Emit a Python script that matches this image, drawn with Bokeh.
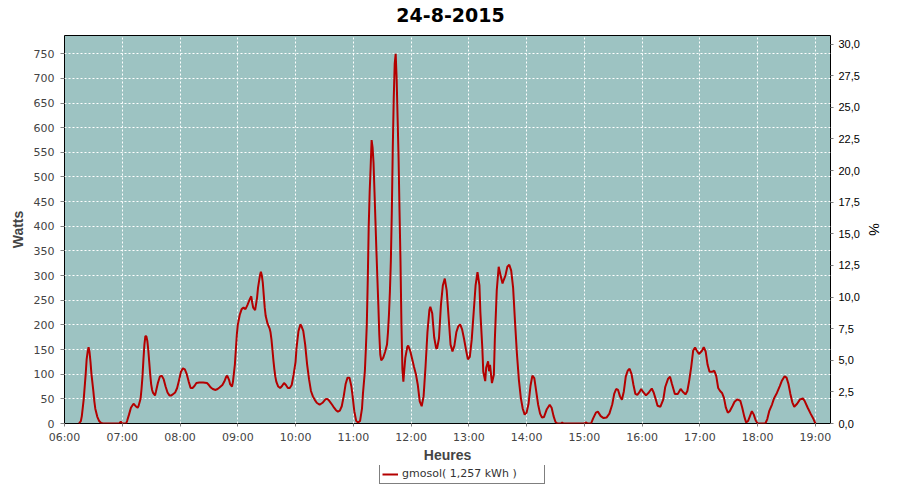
import pandas as pd
from bokeh.plotting import figure
from bokeh.layouts import column
from bokeh.models import (Range1d, LinearAxis, FixedTicker, DatetimeTickFormatter, Label,
                          CustomJSTickFormatter, Legend, LegendItem, ColumnDataSource)
from bokeh.embed import file_html
from bokeh.resources import INLINE

DATE = "2015-08-24"
TITLE = "24-8-2015"
SERIES_LABEL = "gmosol( 1,257 kWh )"

times = [
    "06:15", "06:17", "06:18", "06:20", "06:22", "06:23", "06:24", "06:25", "06:26", "06:27",
    "06:28", "06:30", "06:31", "06:32", "06:34", "06:36", "06:38", "06:40", "06:50", "06:57",
    "06:58", "06:59", "07:00", "07:04", "07:05", "07:07", "07:09", "07:11", "07:12", "07:14",
    "07:16", "07:17", "07:19", "07:20", "07:21", "07:22", "07:23", "07:24", "07:25", "07:26",
    "07:27", "07:28", "07:29", "07:30", "07:31", "07:32", "07:34", "07:35", "07:37", "07:39",
    "07:41", "07:43", "07:45", "07:47", "07:49", "07:51", "07:53", "07:55", "07:57", "07:59",
    "08:01", "08:03", "08:05", "08:07", "08:09", "08:11", "08:13", "08:15", "08:17", "08:20",
    "08:24", "08:28", "08:30", "08:32", "08:34", "08:37", "08:39", "08:41", "08:44", "08:46",
    "08:48", "08:49", "08:51", "08:52", "08:54", "08:55", "08:57", "08:58", "08:59", "09:00",
    "09:02", "09:04", "09:06", "09:08", "09:10", "09:12", "09:14", "09:15", "09:16", "09:18",
    "09:20", "09:21", "09:23", "09:24", "09:25", "09:26", "09:27", "09:28", "09:29", "09:31",
    "09:33", "09:34", "09:35", "09:36", "09:37", "09:38", "09:39", "09:40", "09:42", "09:44",
    "09:46", "09:48", "09:50", "09:52", "09:54", "09:56", "09:58", "10:00", "10:01", "10:03",
    "10:05", "10:06", "10:08", "10:10", "10:12", "10:14", "10:16", "10:18", "10:20", "10:22",
    "10:25", "10:28", "10:31", "10:33", "10:35", "10:38", "10:40", "10:42", "10:44", "10:46",
    "10:48", "10:50", "10:52", "10:54", "10:56", "10:58", "10:59", "11:01", "11:03", "11:05",
    "11:07", "11:09", "11:10", "11:12", "11:13", "11:14", "11:15", "11:16", "11:17", "11:18",
    "11:19", "11:20", "11:21", "11:22", "11:23", "11:24", "11:25", "11:26", "11:27", "11:28",
    "11:29", "11:31", "11:33", "11:35", "11:36", "11:37", "11:38", "11:39", "11:40", "11:41",
    "11:42", "11:43", "11:44", "11:45", "11:46", "11:47", "11:48", "11:49", "11:50", "11:51",
    "11:52", "11:53", "11:54", "11:56", "11:57", "11:59", "12:01", "12:03", "12:05", "12:07",
    "12:09", "12:11", "12:13", "12:15", "12:17", "12:19", "12:20", "12:22", "12:24", "12:26",
    "12:27", "12:29", "12:31", "12:33", "12:35", "12:37", "12:39", "12:41", "12:43", "12:45",
    "12:47", "12:49", "12:51", "12:53", "12:55", "12:57", "12:59", "13:01", "13:03", "13:05",
    "13:07", "13:09", "13:11", "13:12", "13:14", "13:15", "13:17", "13:18", "13:20", "13:21",
    "13:22", "13:24", "13:26", "13:27", "13:29", "13:31", "13:33", "13:35", "13:36", "13:38",
    "13:40", "13:42", "13:44", "13:46", "13:48", "13:50", "13:52", "13:54", "13:56", "13:58",
    "14:00", "14:02", "14:04", "14:06", "14:08", "14:10", "14:12", "14:14", "14:16", "14:18",
    "14:21", "14:24", "14:26", "14:28", "14:30", "14:32", "14:36", "14:37", "14:38", "15:00",
    "15:02", "15:03", "15:07", "15:09", "15:12", "15:14", "15:17", "15:20", "15:23", "15:26",
    "15:29", "15:31", "15:33", "15:35", "15:37", "15:39", "15:41", "15:43", "15:45", "15:47",
    "15:49", "15:51", "15:53", "15:55", "15:57", "15:59", "16:01", "16:04", "16:07", "16:10",
    "16:12", "16:14", "16:16", "16:19", "16:22", "16:24", "16:27", "16:29", "16:31", "16:34",
    "16:37", "16:40", "16:42", "16:45", "16:47", "16:49", "16:51", "16:53", "16:55", "16:57",
    "16:59", "17:02", "17:04", "17:06", "17:08", "17:10", "17:13", "17:15", "17:17", "17:19",
    "17:21", "17:23", "17:25", "17:27", "17:29", "17:31", "17:34", "17:36", "17:39", "17:42",
    "17:44", "17:46", "17:48", "17:50", "17:52", "17:54", "17:56", "17:58", "18:00", "18:08",
    "18:10", "18:12", "18:15", "18:17", "18:20", "18:23", "18:25", "18:28", "18:30", "18:32",
    "18:34", "18:36", "18:38", "18:41", "18:44", "18:47", "18:49", "18:52", "18:55", "18:58",
    "19:00",
]

watts = [
    0, 5, 15, 50, 100, 130, 145, 155, 145, 125,
    100, 65, 45, 30, 14, 5, 1, 0, 0, 0,
    3, 3, 0, 0, 5, 18, 32, 38, 40, 35,
    32, 36, 50, 70, 95, 130, 160, 177, 177, 168,
    150, 125, 100, 80, 68, 62, 57, 65, 82, 95,
    97, 90, 75, 63, 57, 57, 60, 63, 72, 88,
    105, 112, 110, 100, 85, 72, 72, 76, 82, 83,
    83, 82, 78, 73, 70, 68, 70, 73, 78, 85,
    95, 97, 88, 80, 75, 85, 120, 150, 180, 200,
    220, 232, 235, 232, 240, 250, 258, 245, 235, 230,
    255, 275, 300, 308, 300, 285, 260, 235, 218, 202,
    193, 185, 170, 150, 128, 110, 95, 85, 75, 72,
    76, 82, 78, 72, 72, 78, 99, 125, 153, 187,
    201, 198, 188, 160, 120, 90, 66, 55, 48, 42,
    38, 42, 49, 50, 46, 38, 32, 27, 24, 26,
    35, 55, 80, 93, 93, 75, 60, 25, 5, 2,
    5, 30, 60, 106, 150, 200, 290, 400, 470, 520,
    575, 560, 529, 470, 410, 350, 294, 240, 180, 140,
    128, 133, 145, 160, 185, 220, 267, 330, 430, 560,
    660, 730, 750, 700, 620, 540, 430, 330, 200, 110,
    85, 110, 133, 155, 158, 148, 132, 115, 100, 78,
    45, 35, 55, 115, 185, 230, 237, 223, 175, 153,
    152, 173, 240, 280, 294, 270, 215, 160, 146, 158,
    185, 197, 201, 191, 172, 150, 130, 135, 170, 225,
    280, 307, 280, 225, 153, 105, 86, 113, 126, 106,
    119, 82, 99, 170, 270, 318, 300, 284, 290, 300,
    318, 322, 310, 275, 205, 140, 88, 52, 30, 18,
    22, 40, 76, 97, 92, 65, 38, 20, 12, 13,
    29, 38, 32, 15, 3, 0, 0, 2, 0, 0,
    2, 0, 0, 10, 22, 24, 15, 11, 12, 20,
    39, 60, 70, 68, 55, 48, 65, 95, 107, 111,
    100, 78, 60, 58, 63, 70, 64, 57, 63, 71,
    63, 50, 36, 34, 49, 74, 91, 95, 80, 60,
    60, 70, 65, 59, 66, 88, 115, 148, 154, 147,
    141, 147, 155, 146, 119, 105, 105, 107, 96, 72,
    66, 62, 52, 32, 22, 25, 36, 44, 49, 46,
    32, 15, 2, 5, 15, 25, 18, 6, 0, 0,
    9, 25, 39, 51, 62, 76, 86, 96, 93, 80,
    60, 43, 34, 40, 49, 51, 45, 32, 20, 9,
    0,
]

hour_ticks = ["06:00", "07:00", "08:00", "09:00", "10:00", "11:00", "12:00",
              "13:00", "14:00", "15:00", "16:00", "17:00", "18:00", "19:00"]
watt_ticks = [0, 50, 100, 150, 200, 250, 300, 350, 400, 450, 500, 550, 600, 650, 700, 750]
pct_ticks = [0, 2.5, 5, 7.5, 10, 12.5, 15, 17.5, 20, 22.5, 25, 27.5, 30]

x_start, x_end = "06:00:00", "19:15:40"
watt_max = 787
pct_max = 30.68

LINE_COLOR = "#B40000"
W = 884
FRAME_LEFT = 64   # strips are frame-aligned with the main chart in the column


def ts(t):
    return pd.Timestamp(f"{DATE} {t}")


src = ColumnDataSource(dict(x=[ts(t) for t in times], y=watts))


def strip(height):
    f = figure(width=W, height=height, x_range=Range1d(0, 1), y_range=Range1d(0, 1),
               x_axis_location=None, y_axis_location=None,
               output_backend="svg", toolbar_location=None, min_border=0,
               border_fill_color="white", background_fill_color="white",
               outline_line_color=None)
    f.grid.visible = False
    return f


# title strip
tf = strip(27)
tf.add_layout(Label(x=450 - FRAME_LEFT, y=13, x_units="screen", y_units="screen", text=TITLE,
                    text_align="center", text_baseline="middle",
                    text_font="DejaVu Sans", text_font_style="bold",
                    text_font_size="19px", text_color="black"))

# main chart
p = figure(width=W, height=438, x_axis_type="datetime",
           x_range=Range1d(ts(x_start), ts(x_end)),
           y_range=Range1d(0, watt_max),
           output_backend="svg", toolbar_location=None,
           min_border_left=FRAME_LEFT, min_border_right=48, min_border_top=8, min_border_bottom=42,
           background_fill_color="#9DC3C2", border_fill_color="white",
           outline_line_color="black", outline_line_width=1)

p.extra_y_ranges = {"pct": Range1d(0, pct_max)}

tick_ms = [ts(h).value // 10**6 for h in hour_ticks]
xa = p.xaxis[0]
xa.ticker = FixedTicker(ticks=tick_ms, minor_ticks=[])
fmt = "%H:%M"
xa.formatter = DatetimeTickFormatter(microseconds=fmt, milliseconds=fmt, seconds=fmt, minsec=fmt,
                                     minutes=fmt, hourmin=fmt, hours=fmt, days=fmt,
                                     months=fmt, years=fmt)
xa.axis_label = "Heures"

ya = p.yaxis[0]
ya.ticker = FixedTicker(ticks=watt_ticks, minor_ticks=[])
ya.axis_label = "Watts"

ra = LinearAxis(y_range_name="pct", ticker=FixedTicker(ticks=pct_ticks, minor_ticks=[]),
                formatter=CustomJSTickFormatter(code="return tick.toFixed(1).replace('.', ',');"),
                axis_label="%")
p.add_layout(ra, "right")

for ax in (xa, ya, ra):
    ax.axis_line_color = None
    ax.major_tick_line_color = "#808080"
    ax.major_tick_in = 0
    ax.major_tick_out = 4
    ax.minor_tick_line_color = None
    ax.major_label_standoff = 6
    ax.major_label_text_font = "DejaVu Sans"
    ax.major_label_text_font_size = "11px"
    ax.major_label_text_color = "#444444"
    ax.axis_label_text_font = "Liberation Sans"
    ax.axis_label_text_font_style = "bold"
    ax.axis_label_text_font_size = "14px"
    ax.axis_label_text_color = "#444444"

xa.major_tick_out = 3
xa.major_label_standoff = 4
xa.axis_label_standoff = 0
ya.axis_label_standoff = 5
ra.major_label_text_font = "Liberation Sans"
ra.major_label_text_color = "black"
ra.major_tick_out = 3
ra.major_label_standoff = 5
ra.axis_label_text_color = "black"
ra.axis_label_text_font_style = "normal"
ra.axis_label_standoff = 3

p.xgrid.grid_line_color = "white"
p.xgrid.grid_line_dash = "2 2"
p.xgrid.grid_line_width = 1
p.ygrid.grid_line_color = "white"
p.ygrid.grid_line_dash = "2 2"
p.ygrid.grid_line_width = 1

r = p.line("x", "y", source=src, line_color=LINE_COLOR, line_width=2)

# legend strip below the chart (same series, outside this strip's ranges: only the key shows)
lg = strip(19)
key = lg.line("x", "y", source=src, line_color=LINE_COLOR, line_width=2)
legend = Legend(items=[LegendItem(label=SERIES_LABEL, renderers=[key])],
                location=(379 - FRAME_LEFT, 0.5), orientation="horizontal",
                border_line_color="black", border_line_width=1,
                background_fill_color="white", background_fill_alpha=1,
                padding=2, margin=0, spacing=0,
                glyph_width=16, glyph_height=14, label_standoff=4,
                label_width=140, label_height=14,
                label_text_font="DejaVu Sans", label_text_font_size="11px",
                label_text_color="#333333")
lg.add_layout(legend)

open("out.html", "w").write(file_html(column(tf, p, lg, spacing=0), INLINE))
